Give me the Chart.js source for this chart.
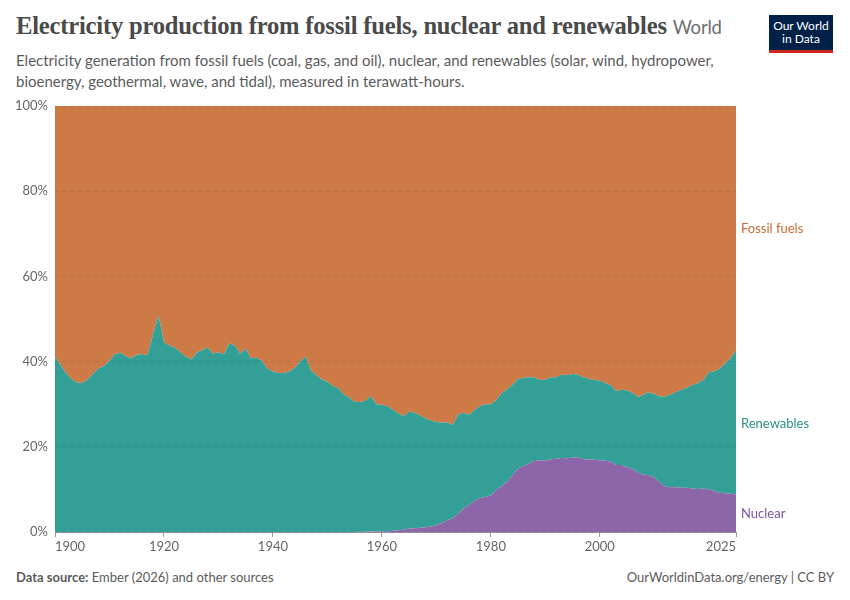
<!DOCTYPE html>
<html>
<head>
<meta charset="utf-8">
<script src="https://cdn.jsdelivr.net/npm/chart.js@4"></script>
<style>
  body { margin: 0; width: 850px; height: 600px; background: #fff; font-family: Lato, sans-serif; position: relative; overflow: hidden; }
  #title { position: absolute; left: 16px; top: 12px; font-family: "Liberation Serif", serif; font-weight: bold; font-size: 24.6px; color: #4a4a4a; white-space: nowrap; letter-spacing: -0.2px; }
  #title span { font-family: Lato, sans-serif; font-weight: normal; font-size: 18.5px; color: #6e6e6e; }
  #subtitle { position: absolute; left: 16px; top: 50px; width: 720px; font-size: 15px; line-height: 21px; color: #5b5b5b; }
  #logo { position: absolute; left: 769px; top: 15px; width: 64px; background: #002147; border-bottom: 3px solid #ce261e; color: #fff; font-size: 12px; line-height: 13px; text-align: center; padding-top: 4px; box-sizing: content-box; height: 31px; }
  #source { position: absolute; left: 16px; top: 569px; font-size: 13px; color: #5b5b5b; }
  #credit { position: absolute; right: 16px; top: 569px; font-size: 13px; color: #5b5b5b; }
  #wrap { position: absolute; left: 0; top: 91px; width: 850px; height: 471px; }
</style>
</head>
<body>
<div id="title">Electricity production from fossil fuels, nuclear and renewables <span>World</span></div>
<div id="subtitle">Electricity generation from fossil fuels (coal, gas, and oil), nuclear, and renewables (solar, wind, hydropower, bioenergy, geothermal, wave, and tidal), measured in terawatt-hours.</div>
<div id="logo">Our World<br>in Data</div>
<div id="wrap"><canvas id="chart"></canvas></div>
<div id="source"><b>Data source:</b> Ember (2026) and other sources</div>
<div id="credit">OurWorldinData.org/energy | CC BY</div>
<script>
'use strict';

// Years 1900..2025, share of electricity (%)
var years = [];
for (var yr = 1900; yr <= 2025; yr++) years.push(yr);

var nuclear = [
  0, 0, 0, 0, 0, 0, 0, 0, 0, 0,
  0, 0, 0, 0, 0, 0, 0, 0, 0, 0,
  0, 0, 0, 0, 0, 0, 0, 0, 0, 0,
  0, 0, 0, 0, 0, 0, 0, 0, 0, 0,
  0, 0, 0, 0, 0, 0, 0, 0, 0, 0,
  0, 0, 0, 0, 0, 0, 0.05, 0.08, 0.1, 0.12,
  0.15, 0.2, 0.3, 0.4, 0.6, 0.8, 0.9, 1.0, 1.1, 1.3,
  1.6, 2.1, 2.7, 3.3, 4.3, 5.5, 6.3, 7.3, 8.0, 8.2,
  8.6, 9.8, 10.8, 11.8, 13.4, 14.9, 15.5, 16.0, 16.9, 16.8,
  16.7, 17.1, 17.2, 17.4, 17.3, 17.5, 17.5, 17.1, 17.0, 17.0,
  16.8, 16.8, 16.5, 15.7, 15.7, 15.2, 14.9, 13.9, 13.5, 13.3,
  12.8, 11.7, 10.7, 10.5, 10.5, 10.4, 10.4, 10.2, 10.1, 10.2,
  10.0, 9.7, 9.2, 9.1, 9.0, 8.8
];

var renewables = [
  41.1, 39.3, 37.3, 35.9, 35.1, 35.0, 35.8, 37.2, 38.4, 39.0,
  40.2, 41.8, 42.1, 41.3, 40.8, 41.6, 41.8, 41.5, 46.5, 50.9,
  44.6, 43.8, 43.3, 42.2, 41.2, 40.5, 42.1, 42.7, 43.3, 41.9,
  42.2, 41.7, 44.3, 43.8, 41.9, 43.0, 40.8, 40.9, 40.2, 38.4,
  37.7, 37.3, 37.3, 37.7, 38.5, 40.0, 41.2, 37.9, 36.8, 35.8,
  35.3, 34.3, 33.8, 32.3, 31.6, 30.6, 30.45, 30.72, 31.8, 29.88,
  29.75, 29.3, 28.4, 27.5, 26.6, 27.5, 27.1, 26.4, 25.6, 24.9,
  24.2, 23.6, 23.0, 21.8, 23.2, 22.5, 21.2, 21.3, 21.6, 21.8,
  21.4, 21.2, 21.8, 21.7, 21.2, 21.0, 20.7, 20.3, 19.4, 18.8,
  19.1, 19.2, 19.1, 19.6, 19.5, 19.6, 19.4, 19.2, 19.0, 18.7,
  18.7, 18.2, 18.0, 17.4, 17.7, 18.0, 17.8, 17.8, 18.7, 19.5,
  19.6, 20.1, 21.1, 21.8, 22.4, 23.0, 23.5, 24.3, 24.9, 25.5,
  27.5, 28.0, 29.1, 30.5, 31.8, 33.8
];

var fossil = [
  58.9, 60.7, 62.7, 64.1, 64.9, 65.0, 64.2, 62.8, 61.6, 61.0,
  59.8, 58.2, 57.9, 58.7, 59.2, 58.4, 58.2, 58.5, 53.5, 49.1,
  55.4, 56.2, 56.7, 57.8, 58.8, 59.5, 57.9, 57.3, 56.7, 58.1,
  57.8, 58.3, 55.7, 56.2, 58.1, 57.0, 59.2, 59.1, 59.8, 61.6,
  62.3, 62.7, 62.7, 62.3, 61.5, 60.0, 58.8, 62.1, 63.2, 64.2,
  64.7, 65.7, 66.2, 67.7, 68.4, 69.4, 69.5, 69.2, 68.1, 70.0,
  70.1, 70.5, 71.3, 72.1, 72.8, 71.7, 72.0, 72.6, 73.3, 73.8,
  74.2, 74.3, 74.3, 74.9, 72.5, 72.0, 72.5, 71.4, 70.4, 70.0,
  70.0, 69.0, 67.4, 66.5, 65.4, 64.1, 63.8, 63.7, 63.7, 64.4,
  64.2, 63.7, 63.7, 63.0, 63.2, 62.9, 63.1, 63.7, 64.0, 64.3,
  64.5, 65.0, 65.5, 66.9, 66.6, 66.8, 67.3, 68.3, 67.8, 67.2,
  67.6, 68.2, 68.2, 67.7, 67.1, 66.6, 66.1, 65.5, 65.0, 64.3,
  62.5, 62.3, 61.7, 60.4, 59.2, 57.4
];

var xTicks = [1900, 1920, 1940, 1960, 1980, 2000, 2025];
var yTicks = [0, 20, 40, 60, 80, 100];

var seriesNames = ['Nuclear', 'Renewables', 'Fossil fuels'];
var fillColors = ['#8c66a8', '#349f97', '#cd7a46'];
var labelColors = ['#7b55a0', '#2b8f88', '#c46d36'];

function toPoints(values) {
  return values.map(function (v, i) { return { x: years[i], y: v }; });
}

// draws the series names at the right end of each band
var endLabels = {
  id: 'endLabels',
  afterDraw: function (chart) {
    var ctx = chart.ctx;
    var yScale = chart.scales.y;
    var area = chart.chartArea;
    var last = years.length - 1;
    var base = 0;
    ctx.save();
    ctx.font = '13px Lato, sans-serif';
    ctx.textBaseline = 'middle';
    ctx.textAlign = 'left';
    chart.data.datasets.forEach(function (ds, i) {
      var v = ds.data[last].y;
      var mid = yScale.getPixelForValue(base + v / 2);
      ctx.fillStyle = labelColors[i];
      ctx.fillText(seriesNames[i], area.right + 5, mid + 1);
      base += v;
    });
    ctx.restore();
  }
};

function createChart() {
  var ctx = document.getElementById('chart');
  new Chart(ctx, {
    type: 'line',
    data: {
      datasets: [
        { label: seriesNames[0], data: toPoints(nuclear), fill: 'origin' },
        { label: seriesNames[1], data: toPoints(renewables), fill: '-1' },
        { label: seriesNames[2], data: toPoints(fossil), fill: '-1' }
      ].map(function (ds, i) {
        ds.backgroundColor = fillColors[i];
        ds.borderColor = fillColors[i];
        ds.borderWidth = 0;
        ds.pointRadius = 0;
        ds.tension = 0;
        return ds;
      })
    },
    options: {
      responsive: true,
      maintainAspectRatio: false,
      animation: false,
      layout: { padding: { top: 15, right: 114, left: 0, bottom: 0 } },
      plugins: {
        legend: { display: false },
        tooltip: { enabled: false },
        filler: { propagate: false }
      },
      scales: {
        x: {
          type: 'linear',
          min: 1900,
          max: 2025,
          afterBuildTicks: function (scale) {
            scale.ticks = xTicks.map(function (v) { return { value: v }; });
          },
          afterFit: function (scale) { scale.height = 30; },
          grid: { drawOnChartArea: false, drawTicks: true, tickLength: 5, color: '#999' },
          border: { display: true, color: '#999' },
          ticks: {
            align: 'inner',
            autoSkip: false,
            maxRotation: 0,
            padding: 2,
            color: '#666',
            font: { family: 'Lato', size: 13 },
            callback: function (v) { return String(v); }
          }
        },
        y: {
          stacked: true,
          min: 0,
          max: 100,
          afterBuildTicks: function (scale) {
            scale.ticks = yTicks.map(function (v) { return { value: v }; });
          },
          afterFit: function (scale) { scale.width = 55; },
          grid: { z: 1, color: 'rgba(0,0,0,0.1)', drawTicks: false },
          border: { display: false, dash: [4, 4] },
          ticks: {
            padding: 7,
            color: '#666',
            font: { family: 'Lato', size: 13 },
            callback: function (v) { return v + '%'; }
          }
        }
      }
    },
    plugins: [endLabels]
  });
}

createChart();
</script>
</body>
</html>
